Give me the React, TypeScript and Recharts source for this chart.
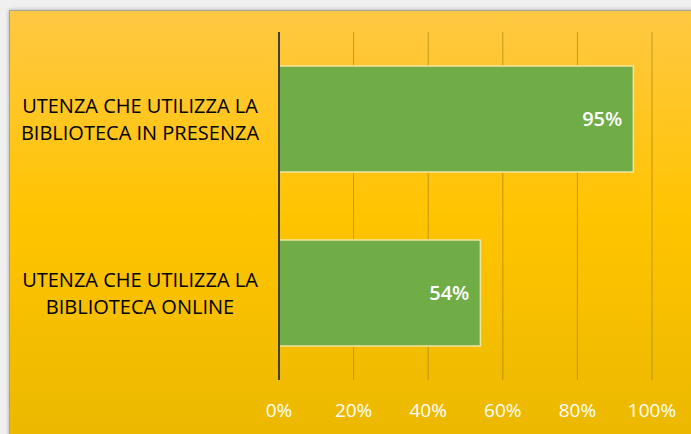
import { BarChart, Bar, XAxis, YAxis, CartesianGrid, LabelList } from "recharts";

const categories = [
  "UTENZA CHE UTILIZZA LA|BIBLIOTECA IN PRESENZA",
  "UTENZA CHE UTILIZZA LA|BIBLIOTECA ONLINE",
];
const shares = [0.95, 0.54];
const xTicks = [0, 0.2, 0.4, 0.6, 0.8, 1];

const data = categories.map((name, i) => ({ name, value: shares[i] }));

const FONT = "'Open Sans', 'DejaVu Sans', sans-serif";

const pct = (v: number) => `${Math.round(v * 100)}%`;

function CategoryTick(props: any) {
  const { y, payload } = props;
  const lines: string[] = String(payload.value).split("|");
  return (
    <text
      x={140}
      y={y}
      textAnchor="middle"
      fill="#000000"
      fontFamily={FONT}
      fontSize={20}
    >
      {lines.map((l, i) => (
        <tspan key={i} x={140} dy={i === 0 ? -6 : 27}>
          {l}
        </tspan>
      ))}
    </text>
  );
}

function PercentTick(props: any) {
  const { x, payload } = props;
  return (
    <text
      x={x}
      y={417}
      textAnchor="middle"
      fill="#ffffff"
      fontFamily={FONT}
      fontSize={19}
    >
      {pct(payload.value)}
    </text>
  );
}

export default function App() {
  return (
    <div
      style={{
        position: "fixed",
        left: 0,
        top: 0,
        width: 691,
        height: 434,
        background: "#f0f0f0",
        overflow: "hidden",
      }}
    >
      <div
        style={{
          position: "absolute",
          left: 9,
          top: 10,
          width: 720,
          height: 460,
          border: "1px solid #a8a39a",
          boxShadow: "0 0 4px rgba(0,0,0,0.3)",
          background: "linear-gradient(#ffc843 0%, #ffc400 45%, #e8b700 100%)",
        }}
      />
      <div style={{ position: "absolute", left: 0, top: 0 }}>
        <BarChart
          width={691}
          height={434}
          data={data}
          layout="vertical"
          margin={{ top: 32, right: 39, bottom: 24, left: 9 }}
          barCategoryGap="19.5%"
        >
          <CartesianGrid
            horizontal={false}
            stroke="rgba(150,115,20,0.55)"
            strokeWidth={1}
          />
          <XAxis
            type="number"
            domain={[0, 1]}
            ticks={xTicks}
            axisLine={false}
            tickLine={false}
            height={30}
            tick={<PercentTick />}
            interval={0}
          />
          <YAxis
            type="category"
            dataKey="name"
            width={270}
            axisLine={{ stroke: "#404040", strokeWidth: 2 }}
            tickLine={false}
            tick={<CategoryTick />}
          />
          <Bar
            dataKey="value"
            fill="#70ad47"
            stroke="#f3e3a0"
            strokeWidth={1.5}
            isAnimationActive={false}
          >
            <LabelList
              dataKey="value"
              position="insideRight"
              offset={11}
              formatter={(v: any) => pct(Number(v))}
              fill="#ffffff"
              fontFamily={FONT}
              fontSize={20}
              fontWeight={600}
            />
          </Bar>
        </BarChart>
      </div>
    </div>
  );
}
